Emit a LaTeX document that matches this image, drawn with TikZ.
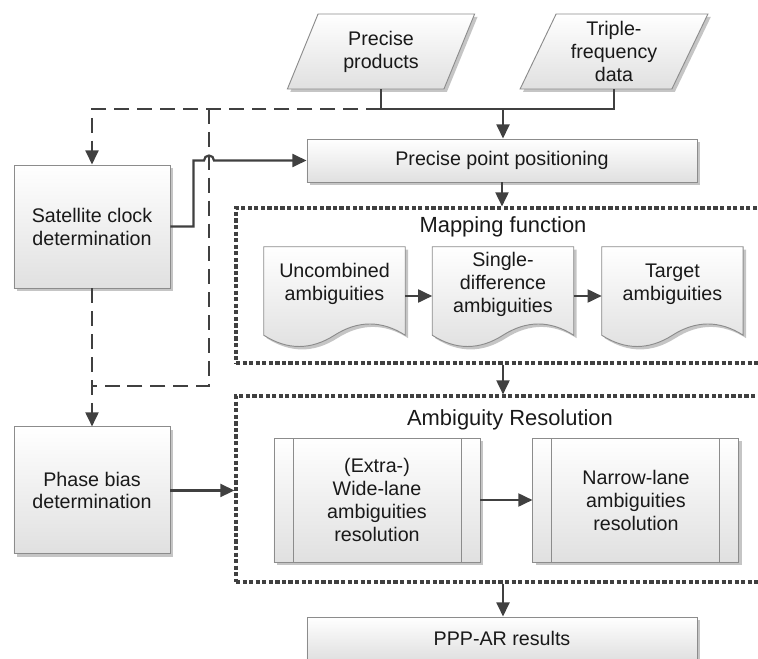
\documentclass[tikz,border=0pt]{standalone}
\usepackage{fontspec}
\setmainfont{Liberation Sans}
\usetikzlibrary{positioning,shapes.geometric,arrows.meta,shadows,calc,backgrounds}

\definecolor{linegray}{HTML}{404040}
\definecolor{edgegray}{HTML}{8C8C8C}
\definecolor{fillgray}{HTML}{E0E0E0}

\begin{document}
\begin{tikzpicture}[
    x=0.03cm, y=0.03cm,
    font=\fontsize{16.8}{19.6}\selectfont,
    every node/.style={align=center, text=black!90},
    shade/.style={
        draw=edgegray, line width=0.8pt,
        top color=white, bottom color=fillgray,
        drop shadow={shadow xshift=2.5pt, shadow yshift=-2.5pt, fill=black!45, opacity=0.5}
    },
    box/.style={shade, inner sep=0pt},
    datain/.style={box, trapezium, trapezium left angle=66, trapezium right angle=114,
        trapezium stretches=true, minimum width=5.64cm, minimum height=2.25cm},
    docnode/.style={minimum width=4.23cm, minimum height=2.22cm, inner sep=0pt},
    procbox/.style={box, minimum width=6.18cm, minimum height=3.72cm,
        path picture={
            \draw[edgegray, line width=0.8pt]
                ([xshift=0.57cm]path picture bounding box.north west) -- ([xshift=0.57cm]path picture bounding box.south west)
                ([xshift=-0.57cm]path picture bounding box.north east) -- ([xshift=-0.57cm]path picture bounding box.south east);
        }},
    frame/.style={draw=linegray, line width=2.6pt, dash pattern=on 3.6pt off 2pt,
        minimum width=16.02cm, inner sep=0pt},
    framelbl/.style={font=\fontsize{18.7}{22}\selectfont},
    flowline/.style={draw=linegray, line width=1.9pt},
    flow/.style={flowline, -{Triangle[length=12pt, width=11pt]}},
    dashline/.style={flowline, dash pattern=on 12.75pt off 6.8pt},
    dashflow/.style={dashline, -{Triangle[length=12pt, width=11pt]}}
]
\useasboundingbox (0,0) rectangle (758,658);
\clip (0,0) rectangle (758,658);

% inputs
\node[datain] (prod) at (381,606.5) {Precise\\products};
\node[datain] (freq) at (614,606.5) {Triple-\\frequency\\data};

% left column
\node[box, minimum width=4.68cm, minimum height=3.69cm] (sat) at (92,431.5) {Satellite clock\\determination};
\node[box, minimum width=4.68cm, minimum height=3.81cm, below=4.14cm of sat] (phase) {Phase bias\\determination};

% main column
\node[box, minimum width=11.7cm, minimum height=1.29cm] (ppp) at (502,497.5) {Precise point positioning};
\node[frame, minimum height=4.65cm] (map) at (503,372.5) {};
\node[framelbl] (maplbl) at (503,431) {Mapping function};
\node[docnode] (unc) at (334.5,374) {Uncombined\\ambiguities};
\node[docnode, right=0.81cm of unc] (sdiff) {Single-\\difference\\ambiguities};
\node[docnode, right=0.84cm of sdiff] (tgt) {Target\\ambiguities};

\node[frame, minimum height=5.58cm] (ar) at (503,169) {};
\node[framelbl] (arlbl) at (510,238) {Ambiguity Resolution};
\node[procbox] (wide) at (377,158) {(Extra-)\\Wide-lane\\ambiguities\\resolution};
\node[procbox, right=1.56cm of wide] (narrow) {Narrow-lane\\ambiguities\\resolution};

\node[box, minimum width=11.7cm, minimum height=1.29cm] (res) at (502,19.5) {PPP-AR results};

% document outlines behind the text
\begin{scope}[on background layer]
\foreach \n in {unc,sdiff,tgt}
    \draw[shade] (\n.north west) -- (\n.north east) -- ($(\n.south east)+(0,-14)$)
        .. controls +(-23.5,15) and +(23.5,15) .. ($(\n.south)+(0,-14)$)
        .. controls +(-23.5,-15) and +(23.5,-15) .. ($(\n.south west)+(0,-14)$) -- cycle;
\end{scope}

% connectors
\coordinate (join) at (503,549);
\coordinate (hop) at (209,497.5);
\coordinate (knee) at (209,272);

\draw[dashflow] (prod.center |- join) -| (sat.north);
\draw[dashline] (hop |- join) -- (knee) -- (knee -| sat.south);
\draw[dashflow] (sat.south) -- (phase.north);

\draw[flowline] (prod.south -| prod.center) -- (prod.center |- join) -- (freq.center |- join) -- (freq.south -| freq.center);
\draw[flow] (join) -- (join |- ppp.north);
\draw[flow] (sat.east) -- ++(23,0) |- ($(hop)+(-5,0)$) arc[start angle=180, end angle=0, radius=0.15cm] -- (ppp.west);
\draw[flow] (ppp.south) -- (ppp.south |- map.north);
\draw[flow] ($(unc.east)+(0,-12)$) -- ($(sdiff.west)+(0,-12)$);
\draw[flow] ($(sdiff.east)+(0,-12)$) -- ($(tgt.west)+(0,-12)$);
\draw[flow] (map.south) -- (ar.north);
\draw[flow] (phase.east) -- (phase.east -| ar.west);
\draw[flow] (wide) -- (narrow);
\draw[flow] (ar.south) -- (ar.south |- res.north);

\end{tikzpicture}
\end{document}
